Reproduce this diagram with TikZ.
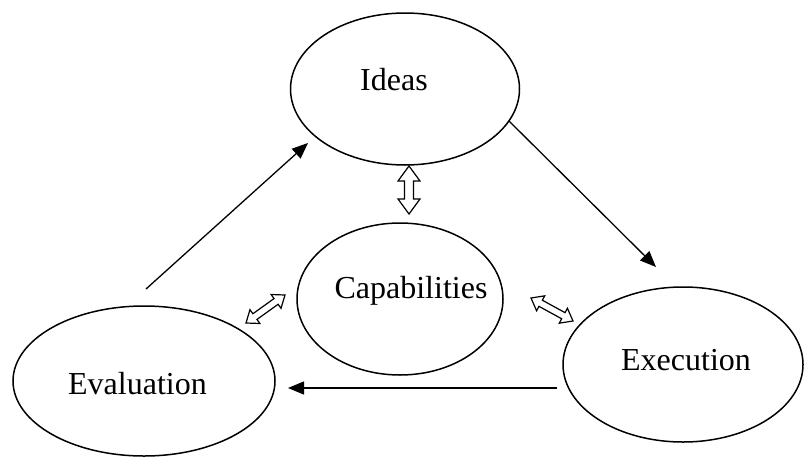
\documentclass[tikz,border=0pt]{standalone}
\usepackage{fontspec}
\setmainfont{Liberation Serif}
\usetikzlibrary{shapes.geometric,arrows.meta,calc}
\newcommand\hdarrow[5]{%
  \coordinate (#1-a) at ($(#1)!#3!(#2)$);
  \coordinate (#2-a) at ($(#2)!#3!(#1)$);
  \draw[hollow] (#1) -- ($(#1-a)!#4!90:(#2)$) -- ($(#1-a)!#5!90:(#2)$)
    -- ($(#2-a)!#5!-90:(#1)$) -- ($(#2-a)!#4!-90:(#1)$) -- (#2)
    -- ($(#2-a)!#4!90:(#1)$) -- ($(#2-a)!#5!90:(#1)$)
    -- ($(#1-a)!#5!-90:(#2)$) -- ($(#1-a)!#4!-90:(#2)$) -- cycle;}
\begin{document}
\begin{tikzpicture}[x=1pt,y=-1pt,
  oval/.style={draw, ellipse, line width=1.5pt, inner sep=0pt},
  lbl/.style={font=\fontsize{32}{38}\selectfont, inner sep=0pt, anchor=base},
  flow/.style={line width=1.3pt, -{Triangle[length=16pt,width=13pt]}},
  hollow/.style={draw, line width=1.2pt, fill=white, line join=miter}]
\useasboundingbox (0,0) rectangle (805,458);
\fill[white] (0,0) rectangle (805,458);
% ellipses
\node[oval, minimum width=229pt, minimum height=152pt] (ideas) at (405,89) {};
\node[oval, minimum width=206pt, minimum height=152pt] (cap) at (400,299) {};
\node[oval, minimum width=262pt, minimum height=150pt] (eval) at (144,381) {};
\node[oval, minimum width=240pt, minimum height=155pt] (exec) at (683,364.5) {};
% labels
\node[lbl] (ideas-t) at (394,90) {Ideas};
\node[lbl] (cap-t) at (411,298) {Capabilities};
\node[lbl] (eval-t) at (137.5,394) {Evaluation};
\node[lbl] (exec-t) at (686,370) {Execution};
% connector ends
\coordinate (evalout) at (146,289);
\coordinate (ideasin) at (308,143);
\coordinate (ideasout) at (509,121);
\coordinate (execin) at (656,267);
\coordinate (execout) at (557,388);
\coordinate (evalin) at (288,388);
\draw[flow] (evalout) -- (ideasin);
\draw[flow] (ideasout) -- (execin);
\draw[flow] (execout) -- (evalin);
% hollow double arrows
\coordinate (v1) at (409,166);
\coordinate (v2) at (409,214);
\coordinate (l1) at (246,323);
\coordinate (l2) at (285,295);
\coordinate (r1) at (531,298);
\coordinate (r2) at (573,321);
\hdarrow{v1}{v2}{15pt}{11pt}{4.5pt}
\hdarrow{l1}{l2}{11pt}{8.5pt}{3.5pt}
\hdarrow{r1}{r2}{11pt}{8.5pt}{3.5pt}
\end{tikzpicture}
\end{document}
